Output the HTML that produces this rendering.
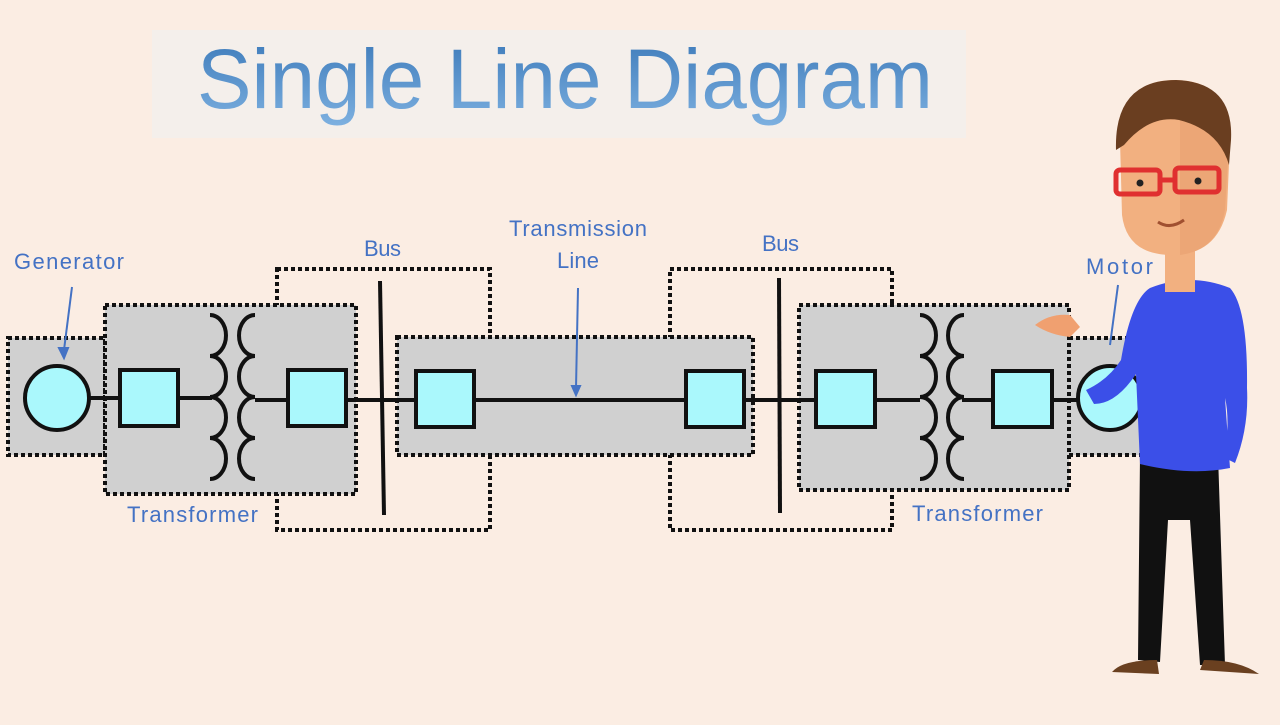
<!DOCTYPE html>
<html><head><meta charset="utf-8"><style>
body{margin:0;width:1280px;height:720px;overflow:hidden;background:#fbede3;font-family:"Liberation Sans",sans-serif}
</style></head><body>
<svg width="1280" height="720" viewBox="0 0 1280 720" xmlns="http://www.w3.org/2000/svg">
<defs>
<linearGradient id="tg" x1="0" y1="0" x2="0" y2="1"><stop offset="0" stop-color="#3a78b8"/><stop offset="1" stop-color="#7db0e0"/></linearGradient>
</defs>
<rect width="1280" height="720" fill="#fbede3"/>
<rect x="152" y="30" width="814" height="108" fill="#f4efeb"/>
<text x="197" y="108" font-size="84" fill="url(#tg)" font-family="Liberation Sans,sans-serif" textLength="736" lengthAdjust="spacingAndGlyphs">Single Line Diagram</text>
<g fill="none" stroke="#111" stroke-width="4" stroke-dasharray="4 3">
<rect x="277" y="269" width="213" height="261"/>
<rect x="670" y="269" width="222" height="261"/>
</g>
<g fill="#d0d0d0" stroke="#111" stroke-width="4" stroke-dasharray="4 3">
<rect x="8" y="338" width="97" height="117"/>
<rect x="105" y="305" width="251" height="189"/>
<rect x="397" y="337" width="356" height="118"/>
<rect x="799" y="305" width="270" height="185"/>
<rect x="1069" y="338" width="80" height="117"/>
</g>
<g stroke="#111" stroke-width="4" fill="none">
<line x1="89" y1="398" x2="120" y2="398"/>
<line x1="178" y1="398" x2="212" y2="398"/>
<line x1="255" y1="400" x2="288" y2="400"/>
<line x1="346" y1="400" x2="416" y2="400"/>
<line x1="474" y1="400" x2="686" y2="400"/>
<line x1="744" y1="400" x2="816" y2="400"/>
<line x1="875" y1="400" x2="920" y2="400"/>
<line x1="962" y1="400" x2="993" y2="400"/>
<line x1="1052" y1="400" x2="1080" y2="400"/>
<line x1="380" y1="281" x2="384" y2="515"/>
<line x1="779" y1="278" x2="780" y2="513"/>
<path d="M210 315 a16 20.5 0 0 1 0 41 a16 20.5 0 0 1 0 41 a16 20.5 0 0 1 0 41 a16 20.5 0 0 1 0 41"/>
<path d="M255 315 a16 20.5 0 0 0 0 41 a16 20.5 0 0 0 0 41 a16 20.5 0 0 0 0 41 a16 20.5 0 0 0 0 41"/>
<path d="M920 315 a16 20.5 0 0 1 0 41 a16 20.5 0 0 1 0 41 a16 20.5 0 0 1 0 41 a16 20.5 0 0 1 0 41"/>
<path d="M964 315 a16 20.5 0 0 0 0 41 a16 20.5 0 0 0 0 41 a16 20.5 0 0 0 0 41 a16 20.5 0 0 0 0 41"/>
</g>
<g fill="#aaf8fc" stroke="#111" stroke-width="4">
<circle cx="57" cy="398" r="32"/>
<circle cx="1110" cy="398" r="32"/>
<rect x="120" y="370" width="58" height="56"/>
<rect x="288" y="370" width="58" height="56"/>
<rect x="416" y="371" width="58" height="56"/>
<rect x="686" y="371" width="58" height="56"/>
<rect x="816" y="371" width="59" height="56"/>
<rect x="993" y="371" width="59" height="56"/>
</g>
<g stroke="#4472c4" stroke-width="2" fill="#4472c4">
<line x1="72" y1="287" x2="64" y2="350"/><path d="M59 348 l5 10 l4 -10z"/>
<line x1="578" y1="288" x2="576" y2="388"/><path d="M572 386 l4 9 l4 -9z"/>
<line x1="1118" y1="285" x2="1110" y2="345"/>
</g>
<g fill="#4472c4" font-size="22" lengthAdjust="spacingAndGlyphs">
<text x="14" y="269" textLength="110">Generator</text>
<text x="364" y="256" textLength="37">Bus</text>
<text x="509" y="236" textLength="138">Transmission</text>
<text x="557" y="268" textLength="42">Line</text>
<text x="762" y="251" textLength="37">Bus</text>
<text x="1086" y="274" textLength="67">Motor</text>
<text x="127" y="522" textLength="131">Transformer</text>
<text x="912" y="521" textLength="131">Transformer</text>
</g>
<!-- person -->
<g>
<path d="M1140 455 L1138 660 L1160 662 L1168 520 L1190 520 L1200 665 L1225 665 L1218 455 Z" fill="#111"/>
<path d="M1112 672 q10 -12 45 -12 l2 14 z" fill="#6a4020"/>
<path d="M1200 670 l4 -10 q35 0 55 14 z" fill="#6a4020"/>
<path d="M1150 288 q40 -16 80 0 q18 20 17 100 q2 40 -12 75 l-10 -5 q5 -40 0 -60 l5 70 q-40 8 -90 -4 l-4 -90 q-20 30 -42 30 l-8 -14 q22 -10 35 -30 q10 -60 29 -72z" fill="#3b4fe8"/>
<path d="M1035 325 q15 -12 35 -10 l10 12 l-10 10 q-20 -2 -35 -12z" fill="#f0a070"/>
<rect x="1165" y="230" width="30" height="62" fill="#f2b080"/>
<path d="M1120 140 q0 -60 55 -60 q55 0 55 60 l-3 70 q-10 45 -55 45 q-45 0 -50 -40 z" fill="#f2b080"/>
<path d="M1180 95 l0 160 q38 -5 45 -45 l4 -70 z" fill="#e8a070" opacity="0.6"/>
<path d="M1116 150 q-2 -70 60 -70 q58 2 55 60 l-2 25 q-10 -35 -50 -45 q-30 -5 -55 25 z" fill="#6a3e20"/>
<g fill="none" stroke="#e03030" stroke-width="5">
<rect x="1116" y="170" width="44" height="24" rx="4"/>
<rect x="1175" y="168" width="44" height="24" rx="4"/>
<line x1="1160" y1="180" x2="1175" y2="180"/>
</g>
<circle cx="1140" cy="183" r="3.5" fill="#222"/><circle cx="1198" cy="181" r="3.5" fill="#222"/>
<path d="M1158 222 q12 8 26 -2" stroke="#a05030" stroke-width="3" fill="none"/>
</g>
</svg>
</body></html>
